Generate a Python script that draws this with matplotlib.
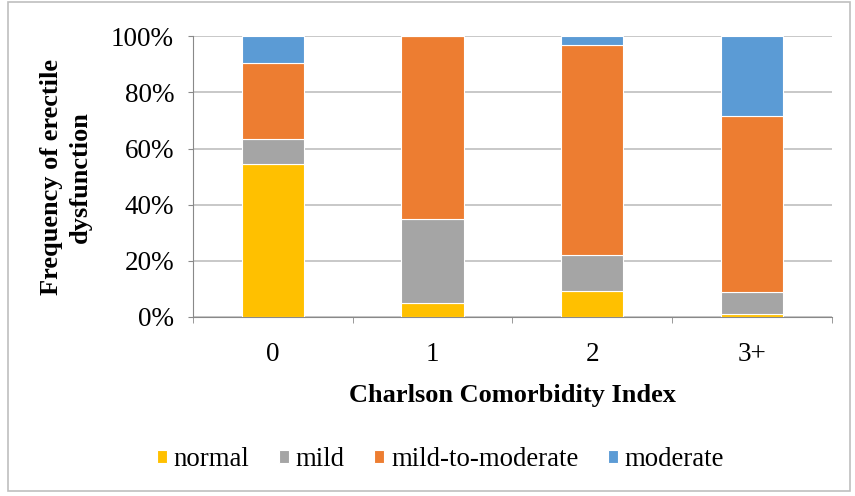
import numpy as np
import matplotlib.pyplot as plt
from matplotlib.patches import Rectangle

# data (percent of patients per CCI group)
categories = ["0", "1", "2", "3+"]
normal = [54.5, 5.0, 9.3, 1.2]
mild = [9.0, 30.0, 12.6, 7.7]
mild_to_moderate = [27.0, 65.0, 74.9, 62.7]
moderate = [9.5, 0.0, 3.2, 28.4]

series = [("normal", normal, "#FFC000"),
          ("mild", mild, "#A5A5A5"),
          ("mild-to-moderate", mild_to_moderate, "#ED7D31"),
          ("moderate", moderate, "#5B9BD5")]

plt.rcParams['font.family'] = ['Liberation Serif', 'DejaVu Serif']

fig = plt.figure(figsize=(8.55, 4.96), dpi=100)
ax = fig.add_axes([0.2257, 0.361, 0.7473, 0.566])

x = np.arange(len(categories))
bottom = np.zeros(len(categories))
for name, vals, col in series:
    vals = np.array(vals)
    ax.bar(x, vals, 0.39, bottom=bottom, color=col, edgecolor="white",
           linewidth=0.8, label=name, zorder=3)
    bottom += vals

ax.set_xlim(-0.5, 3.5)
ax.set_ylim(0, 100)
ax.set_yticks(np.arange(0, 101, 20))
ax.set_yticklabels([f"{v}%" for v in range(0, 101, 20)])
ax.set_xticks(x)
ax.set_xticklabels(categories)
ax.set_xticks(np.arange(-0.5, 3.6, 1), minor=True)
ax.tick_params(axis='x', which='major', length=0, pad=18, labelsize=19.5)
ax.tick_params(axis='x', which='minor', length=4.3, color="#898989", direction='out')
ax.tick_params(axis='y', length=3.6, color="#898989", pad=10, labelsize=19.5)

ax.grid(axis='y', color="#BFBFBF", linewidth=1.2, zorder=0)
for s in ["top", "right"]:
    ax.spines[s].set_visible(False)
ax.spines["left"].set_color("#898989")
ax.spines["bottom"].set_color("#898989")

ax.set_xlabel("Charlson Comorbidity Index", fontsize=19, fontweight='bold', labelpad=12)
ax.set_ylabel("Frequency of erectile\ndysfunction", fontsize=19, fontweight='bold',
              labelpad=14, linespacing=1.3)

leg = fig.legend(loc='center', bbox_to_anchor=(0.515, 0.073), ncol=4, frameon=False,
                 fontsize=19.3, handlelength=0.37, handleheight=0.37,
                 handletextpad=0.26, columnspacing=1.1)

fig.patches.append(Rectangle((0.009, 0.01), 0.985, 0.985, transform=fig.transFigure,
                             fill=False, edgecolor="#BFBFBF", linewidth=1.2))

fig.savefig("out.png", dpi=100)
